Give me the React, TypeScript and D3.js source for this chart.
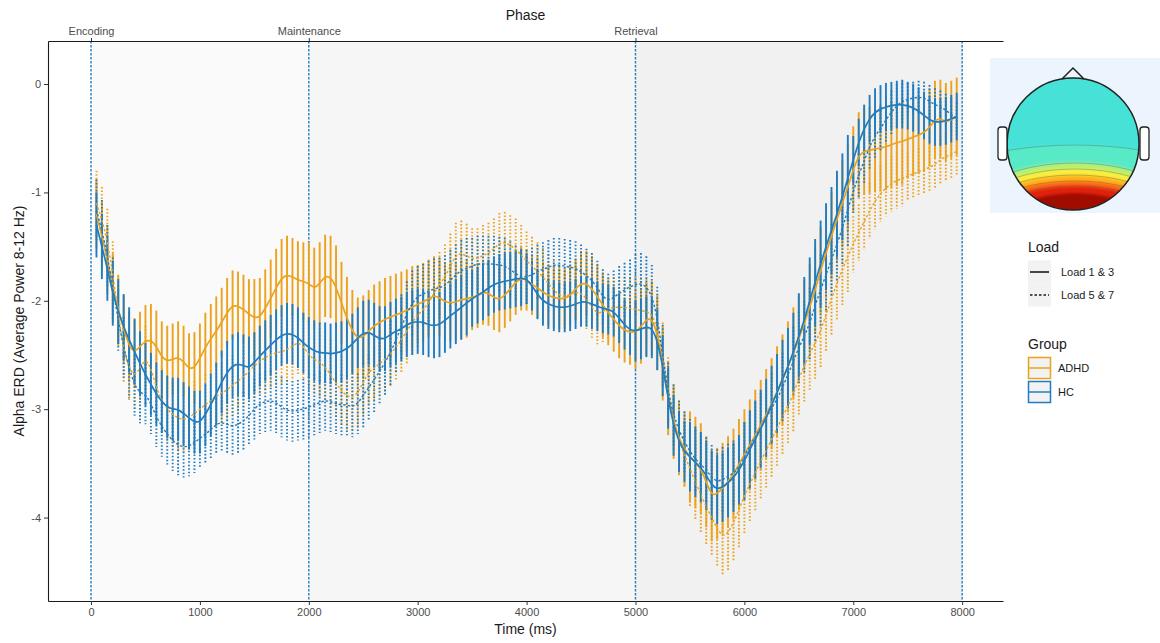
import React, { useRef, useEffect } from 'react';
import * as d3 from 'd3';

const WIDTH = 1160;
const HEIGHT = 643;

// error bars are sampled every 50 ms (50 .. 7950)
const times: number[] = d3.range(50, 8000, 50);

// mean alpha ERD, one row per 500 ms
const adhdLoad13 = [
  -1.20, -1.40, -1.62, -1.88, -2.08, -2.26, -2.42, -2.48, -2.42, -2.37,
  -2.36, -2.42, -2.52, -2.56, -2.54, -2.52, -2.56, -2.63, -2.62, -2.53,
  -2.43, -2.35, -2.28, -2.20, -2.11, -2.04, -2.05, -2.08, -2.12, -2.16,
  -2.15, -2.07, -1.98, -1.88, -1.79, -1.76, -1.78, -1.81, -1.82, -1.84,
  -1.89, -1.84, -1.77, -1.78, -1.87, -2.02, -2.16, -2.28, -2.35, -2.33,
  -2.28, -2.23, -2.20, -2.17, -2.15, -2.13, -2.11, -2.09, -2.06, -2.03,
  -2.01, -1.98, -1.95, -1.97, -2.01, -2.02, -2.01, -1.99, -1.98, -1.97,
  -1.95, -1.92, -1.93, -1.97, -1.99, -1.95, -1.89, -1.83, -1.79, -1.81,
  -1.85, -1.88, -1.92, -1.95, -1.97, -1.98, -1.98, -1.95, -1.89, -1.84,
  -1.84, -1.89, -1.96, -2.04, -2.11, -2.17, -2.23, -2.27, -2.29, -2.29,
  -2.24, -2.17, -2.16, -2.30, -2.58, -2.90, -3.12, -3.27, -3.37, -3.44,
  -3.49, -3.55, -3.67, -3.80, -3.78, -3.73, -3.67, -3.60, -3.51, -3.42,
  -3.33, -3.24, -3.15, -3.05, -2.95, -2.84, -2.73, -2.61, -2.48, -2.35,
  -2.21, -2.06, -1.90, -1.72, -1.56, -1.40, -1.25, -1.10, -0.95, -0.79,
  -0.66, -0.62, -0.61, -0.60, -0.59, -0.58, -0.56, -0.54, -0.53, -0.51,
  -0.49, -0.47, -0.45, -0.40, -0.33, -0.32, -0.35, -0.33, -0.30,
];

const adhdLoad57 = [
  -1.10, -1.25, -1.45, -1.75, -2.12, -2.45, -2.62, -2.70, -2.62, -2.53,
  -2.62, -2.80, -2.92, -3.00, -3.05, -3.08, -3.10, -3.08, -3.04, -3.00,
  -2.96, -2.92, -2.88, -2.85, -2.82, -2.78, -2.74, -2.70, -2.65, -2.60,
  -2.56, -2.52, -2.50, -2.48, -2.47, -2.45, -2.42, -2.38, -2.42, -2.50,
  -2.54, -2.57, -2.61, -2.68, -2.76, -2.83, -2.88, -2.89, -2.85, -2.75,
  -2.66, -2.62, -2.58, -2.54, -2.49, -2.43, -2.36, -2.28, -2.20, -2.13,
  -2.08, -2.02, -1.93, -1.85, -1.78, -1.68, -1.58, -1.56, -1.59, -1.61,
  -1.61, -1.58, -1.56, -1.52, -1.47, -1.46, -1.49, -1.52, -1.58, -1.63,
  -1.68, -1.73, -1.78, -1.84, -1.90, -1.95, -1.96, -1.94, -1.92, -1.93,
  -1.98, -2.06, -2.12, -2.10, -2.07, -2.06, -2.06, -2.06, -2.07, -2.08,
  -2.09, -2.10, -2.12, -2.25, -2.50, -2.82, -3.08, -3.30, -3.42, -3.55,
  -3.67, -3.79, -3.90, -4.00, -4.10, -4.18, -4.14, -4.05, -3.93, -3.80,
  -3.69, -3.59, -3.48, -3.38, -3.28, -3.18, -3.07, -2.97, -2.86, -2.72,
  -2.60, -2.49, -2.39, -2.28, -2.13, -1.98, -1.84, -1.71, -1.59, -1.48,
  -1.37, -1.27, -1.17, -1.08, -1.01, -0.96, -0.92, -0.89, -0.87, -0.85,
  -0.83, -0.81, -0.79, -0.77, -0.74, -0.70, -0.67, -0.65, -0.62,
];

const hcLoad13 = [
  -1.30, -1.50, -1.70, -1.93, -2.10, -2.24, -2.36, -2.47, -2.58, -2.68,
  -2.77, -2.86, -2.93, -2.98, -3.00, -3.00, -3.04, -3.08, -3.12, -3.12,
  -3.05, -2.96, -2.86, -2.75, -2.66, -2.60, -2.58, -2.60, -2.62, -2.57,
  -2.51, -2.46, -2.41, -2.36, -2.32, -2.30, -2.31, -2.34, -2.39, -2.43,
  -2.46, -2.48, -2.48, -2.49, -2.48, -2.47, -2.44, -2.40, -2.34, -2.30,
  -2.29, -2.32, -2.35, -2.35, -2.31, -2.28, -2.26, -2.22, -2.20, -2.19,
  -2.20, -2.22, -2.23, -2.22, -2.18, -2.14, -2.10, -2.06, -2.02, -1.98,
  -1.95, -1.92, -1.88, -1.85, -1.83, -1.82, -1.81, -1.80, -1.79, -1.80,
  -1.86, -1.94, -2.00, -2.03, -2.05, -2.06, -2.06, -2.05, -2.03, -2.01,
  -2.01, -2.03, -2.05, -2.07, -2.08, -2.10, -2.16, -2.22, -2.27, -2.28,
  -2.26, -2.24, -2.25, -2.36, -2.60, -2.90, -3.15, -3.30, -3.39, -3.44,
  -3.49, -3.54, -3.61, -3.70, -3.74, -3.72, -3.68, -3.63, -3.56, -3.48,
  -3.37, -3.28, -3.18, -3.08, -2.96, -2.85, -2.72, -2.61, -2.47, -2.33,
  -2.18, -2.00, -1.83, -1.66, -1.50, -1.35, -1.20, -1.04, -0.87, -0.70,
  -0.54, -0.41, -0.32, -0.26, -0.23, -0.21, -0.20, -0.19, -0.19, -0.20,
  -0.22, -0.25, -0.29, -0.33, -0.35, -0.35, -0.34, -0.32, -0.30,
];

const hcLoad57 = [
  -1.16, -1.35, -1.58, -1.88, -2.18, -2.43, -2.62, -2.78, -2.85, -2.86,
  -2.95, -3.07, -3.16, -3.23, -3.29, -3.33, -3.35, -3.34, -3.31, -3.27,
  -3.23, -3.19, -3.14, -3.12, -3.14, -3.16, -3.14, -3.11, -3.06, -3.00,
  -2.95, -2.93, -2.92, -2.94, -2.98, -3.01, -3.02, -3.01, -3.00, -2.98,
  -2.96, -2.94, -2.92, -2.93, -2.95, -2.96, -2.96, -2.98, -2.95, -2.87,
  -2.80, -2.73, -2.65, -2.57, -2.48, -2.36, -2.24, -2.12, -2.02, -1.96,
  -1.94, -1.91, -1.89, -1.88, -1.86, -1.81, -1.76, -1.72, -1.70, -1.68,
  -1.66, -1.66, -1.66, -1.66, -1.67, -1.68, -1.71, -1.75, -1.78, -1.78,
  -1.76, -1.73, -1.71, -1.69, -1.67, -1.67, -1.68, -1.69, -1.70, -1.73,
  -1.77, -1.81, -1.88, -1.96, -2.00, -1.97, -1.93, -1.90, -1.87, -1.85,
  -1.84, -1.87, -1.95, -2.15, -2.50, -2.85, -3.05, -3.20, -3.30, -3.39,
  -3.46, -3.51, -3.56, -3.63, -3.67, -3.65, -3.62, -3.59, -3.54, -3.44,
  -3.34, -3.26, -3.17, -3.08, -2.99, -2.91, -2.80, -2.68, -2.56, -2.43,
  -2.33, -2.21, -2.04, -1.90, -1.76, -1.62, -1.48, -1.33, -1.16, -0.99,
  -0.84, -0.71, -0.58, -0.48, -0.41, -0.33, -0.26, -0.20, -0.16, -0.14,
  -0.13, -0.12, -0.13, -0.16, -0.19, -0.21, -0.24, -0.28, -0.32,
];

// error-bar half widths, one per 500 ms block
const adhdLoad13Se = [0.32, 0.33, 0.32, 0.36, 0.38, 0.38, 0.36, 0.30, 0.28, 0.30, 0.34, 0.42, 0.42, 0.40, 0.40, 0.36];
const adhdLoad57Se = [0.30, 0.30, 0.28, 0.30, 0.32, 0.30, 0.30, 0.28, 0.27, 0.28, 0.30, 0.35, 0.35, 0.33, 0.26, 0.22];
const hcLoad13Se = [0.30, 0.29, 0.29, 0.28, 0.28, 0.30, 0.30, 0.26, 0.23, 0.23, 0.28, 0.32, 0.36, 0.40, 0.22, 0.22];
const hcLoad57Se = [0.28, 0.28, 0.27, 0.28, 0.28, 0.30, 0.28, 0.26, 0.25, 0.25, 0.28, 0.30, 0.32, 0.33, 0.20, 0.15];

const xTicks = [0, 1000, 2000, 3000, 4000, 5000, 6000, 7000, 8000];
const yTicks = [-4, -3, -2, -1, 0];
const phaseNames = ['Encoding', 'Maintenance', 'Retrieval'];
const phaseStarts = [0, 2000, 5000];
const phaseEnds = [2000, 5000, 8000];
const phaseFills = ['#fafafa', '#f6f6f6', '#f1f1f1'];
const markerTimes = [0, 2000, 5000, 8000];

const loadLabels = ['Load 1 & 3', 'Load 5 & 7'];
const groupLabels = ['ADHD', 'HC'];
const groupColors = ['#eca21a', '#1f7cc0'];

const series = [
  { group: 0, load: 0, values: adhdLoad13, se: adhdLoad13Se },
  { group: 0, load: 1, values: adhdLoad57, se: adhdLoad57Se },
  { group: 1, load: 0, values: hcLoad13, se: hcLoad13Se },
  { group: 1, load: 1, values: hcLoad57, se: hcLoad57Se },
];

const FONT = '"Liberation Sans", Arial, Helvetica, sans-serif';

const AlphaErdChart = () => {
  const svgRef = useRef<SVGSVGElement>(null);

  useEffect(() => {
    const svg = d3.select(svgRef.current);
    svg.selectAll('*').remove();

    const margin = { top: 41, right: 157, bottom: 42, left: 48 };
    const x = d3.scaleLinear().domain([-395, 8375]).range([margin.left, WIDTH - margin.right]);
    const y = d3.scaleLinear().domain([-4.77, 0.397]).range([HEIGHT - margin.bottom, margin.top]);
    const [top, bottom] = [margin.top, HEIGHT - margin.bottom];

    const defs = svg.append('defs');
    defs.append('clipPath').attr('id', 'plot-clip')
      .append('rect')
      .attr('x', margin.left).attr('y', top)
      .attr('width', WIDTH - margin.right - margin.left).attr('height', bottom - top);

    // phase shading
    svg.append('g').selectAll('rect')
      .data(phaseStarts)
      .enter()
      .append('rect')
      .attr('x', d => x(d))
      .attr('y', top)
      .attr('width', (d, i) => x(phaseEnds[i]) - x(d))
      .attr('height', bottom - top)
      .attr('fill', (d, i) => phaseFills[i]);

    // phase boundaries
    svg.append('g').selectAll('line')
      .data(markerTimes)
      .enter()
      .append('line')
      .attr('x1', d => x(d)).attr('x2', d => x(d))
      .attr('y1', top).attr('y2', bottom)
      .attr('stroke', groupColors[1])
      .attr('stroke-width', 1.4)
      .attr('stroke-dasharray', '2.5 1.5');

    const plot = svg.append('g').attr('clip-path', 'url(#plot-clip)');

    // error bars
    series.forEach(s => {
      plot.append('g').selectAll('line')
        .data(s.values)
        .enter()
        .append('line')
        .attr('x1', (d, i) => x(times[i]))
        .attr('x2', (d, i) => x(times[i]))
        .attr('y1', (d, i) => y(d + s.se[Math.floor(times[i] / 500)]))
        .attr('y2', (d, i) => y(d - s.se[Math.floor(times[i] / 500)]))
        .attr('stroke', groupColors[s.group])
        .attr('stroke-width', 1.9)
        .attr('stroke-dasharray', s.load === 1 ? '1.6 1.9' : null);
    });

    // mean lines
    const line = d3.line<number>()
      .x((d, i) => x(times[i]))
      .y(d => y(d))
      .curve(d3.curveBasis);

    series.forEach(s => {
      plot.append('path')
        .datum(s.values)
        .attr('d', line)
        .attr('fill', 'none')
        .attr('stroke', groupColors[s.group])
        .attr('stroke-width', s.load === 1 ? 1.4 : 1.7)
        .attr('stroke-dasharray', s.load === 1 ? '2.5 2' : null);
    });

    // axes
    const styleAxis = (g, size) => {
      g.selectAll('.domain').attr('stroke', '#1a1a1a').attr('stroke-width', 1.1);
      g.selectAll('.tick line').attr('stroke', '#333333').attr('stroke-width', 1);
      g.selectAll('.tick text')
        .attr('fill', '#4d4d4d')
        .style('font-family', FONT)
        .style('font-size', `${size}px`);
    };

    svg.append('g')
      .attr('transform', `translate(${margin.left},0)`)
      .call(d3.axisLeft(y).tickValues(yTicks).tickSize(4).tickSizeOuter(0).tickPadding(3).tickFormat(d => String(d)))
      .call(g => styleAxis(g, 11));

    svg.append('g')
      .attr('transform', `translate(0,${bottom})`)
      .call(d3.axisBottom(x).tickValues(xTicks).tickSize(4).tickSizeOuter(0).tickPadding(3).tickFormat(d => String(d)))
      .call(g => styleAxis(g, 11));

    svg.append('g')
      .attr('transform', `translate(0,${top})`)
      .call(d3.axisTop(x).tickValues(phaseStarts).tickSize(3).tickSizeOuter(0).tickPadding(3)
        .tickFormat((d, i) => phaseNames[i]))
      .call(g => styleAxis(g, 11));

    // titles
    svg.append('text')
      .attr('x', (margin.left + WIDTH - margin.right) / 2)
      .attr('y', 20)
      .attr('text-anchor', 'middle')
      .style('font-family', FONT)
      .style('font-size', '14px')
      .attr('fill', '#1a1a1a')
      .text('Phase');

    svg.append('text')
      .attr('x', (margin.left + WIDTH - margin.right) / 2)
      .attr('y', 634)
      .attr('text-anchor', 'middle')
      .style('font-family', FONT)
      .style('font-size', '14px')
      .attr('fill', '#1a1a1a')
      .text('Time (ms)');

    svg.append('text')
      .attr('transform', `translate(24,${(top + bottom) / 2}) rotate(-90)`)
      .attr('text-anchor', 'middle')
      .style('font-family', FONT)
      .style('font-size', '14px')
      .attr('fill', '#1a1a1a')
      .text('Alpha ERD (Average Power 8-12 Hz)');

    // legend: Load
    const legend = svg.append('g').attr('transform', 'translate(1028,0)');
    legend.append('text')
      .attr('x', 0).attr('y', 252)
      .style('font-family', FONT).style('font-size', '14px')
      .attr('fill', '#1a1a1a')
      .text('Load');

    loadLabels.forEach((label, i) => {
      const cy = 272 + i * 23;
      legend.append('rect')
        .attr('x', 0).attr('y', cy - 11.5).attr('width', 23).attr('height', 23)
        .attr('fill', '#f2f2f2');
      legend.append('line')
        .attr('x1', 2).attr('x2', 21).attr('y1', cy).attr('y2', cy)
        .attr('stroke', '#1a1a1a').attr('stroke-width', 1.6)
        .attr('stroke-dasharray', i === 1 ? '2.5 2' : null);
      legend.append('text')
        .attr('x', 33).attr('y', cy).attr('dy', '0.35em')
        .style('font-family', FONT).style('font-size', '11px')
        .attr('fill', '#1a1a1a')
        .text(label);
    });

    // legend: Group
    legend.append('text')
      .attr('x', 0).attr('y', 349)
      .style('font-family', FONT).style('font-size', '14px')
      .attr('fill', '#1a1a1a')
      .text('Group');

    groupLabels.forEach((label, i) => {
      const cy = 368 + i * 24;
      legend.append('rect')
        .attr('x', 0.5).attr('y', cy - 10.5).attr('width', 22).attr('height', 21)
        .attr('fill', '#f2f2f2')
        .attr('stroke', groupColors[i]).attr('stroke-width', 1.5);
      legend.append('line')
        .attr('x1', 0.5).attr('x2', 22.5).attr('y1', cy).attr('y2', cy)
        .attr('stroke', groupColors[i]).attr('stroke-width', 1.5);
      legend.append('text')
        .attr('x', 30).attr('y', cy).attr('dy', '0.35em')
        .style('font-family', FONT).style('font-size', '11px')
        .attr('fill', '#1a1a1a')
        .text(label);
    });

    // scalp topography inset
    const topo = svg.append('g');
    const head = { cx: 1073, cy: 144, r: 66 };
    topo.append('rect')
      .attr('x', 990).attr('y', 58).attr('width', 170).attr('height', 155)
      .attr('fill', '#ecf5fd');

    defs.append('clipPath').attr('id', 'head-clip')
      .append('circle').attr('cx', head.cx).attr('cy', head.cy).attr('r', head.r);
    defs.append('filter').attr('id', 'soft')
      .attr('x', '-20%').attr('y', '-20%').attr('width', '140%').attr('height', '140%')
      .append('feGaussianBlur').attr('stdDeviation', 1.5);

    const scalp = topo.append('g').attr('clip-path', 'url(#head-clip)');
    scalp.append('rect')
      .attr('x', head.cx - head.r).attr('y', head.cy - head.r)
      .attr('width', head.r * 2).attr('height', head.r * 2)
      .attr('fill', '#46e2d8');

    const bands = [
      { rx: 175, ry: 70, fill: '#58eac6' },
      { rx: 110, ry: 52, fill: '#b8f06a' },
      { rx: 101, ry: 46, fill: '#f9ef3a' },
      { rx: 95, ry: 40, fill: '#ffb41c' },
      { rx: 89, ry: 34, fill: '#ff6414' },
      { rx: 81, ry: 29, fill: '#e0200c' },
      { rx: 60, ry: 22, fill: '#a00a05' },
    ];
    const center = { x: 1075, y: 215 };
    const blurred = scalp.append('g').attr('filter', 'url(#soft)');
    bands.forEach(b => {
      blurred.append('ellipse')
        .attr('cx', center.x).attr('cy', center.y).attr('rx', b.rx).attr('ry', b.ry)
        .attr('fill', b.fill);
    });
    bands.slice(0, 6).forEach(b => {
      scalp.append('ellipse')
        .attr('cx', center.x).attr('cy', center.y).attr('rx', b.rx).attr('ry', b.ry)
        .attr('fill', 'none').attr('stroke', '#555').attr('stroke-opacity', 0.5).attr('stroke-width', 0.7);
    });

    topo.append('circle')
      .attr('cx', head.cx).attr('cy', head.cy).attr('r', head.r)
      .attr('fill', 'none').attr('stroke', '#222').attr('stroke-width', 1.5);
    topo.append('path')
      .attr('d', 'M1062,79 L1073,68 L1084,79')
      .attr('fill', 'none').attr('stroke', '#222').attr('stroke-width', 1.5);
    [[998, 127], [1140, 127]].forEach(([ex, ey]) => {
      topo.append('rect')
        .attr('x', ex).attr('y', ey).attr('width', 9).attr('height', 33).attr('rx', 3)
        .attr('fill', '#ffffff').attr('stroke', '#222').attr('stroke-width', 1.3);
    });
  }, []);

  return (
    <svg
      ref={svgRef}
      width={WIDTH}
      height={HEIGHT}
      style={{ position: 'absolute', left: 0, top: 0, background: '#ffffff' }}
    />
  );
};

export default function App() {
  return <AlphaErdChart />;
}
